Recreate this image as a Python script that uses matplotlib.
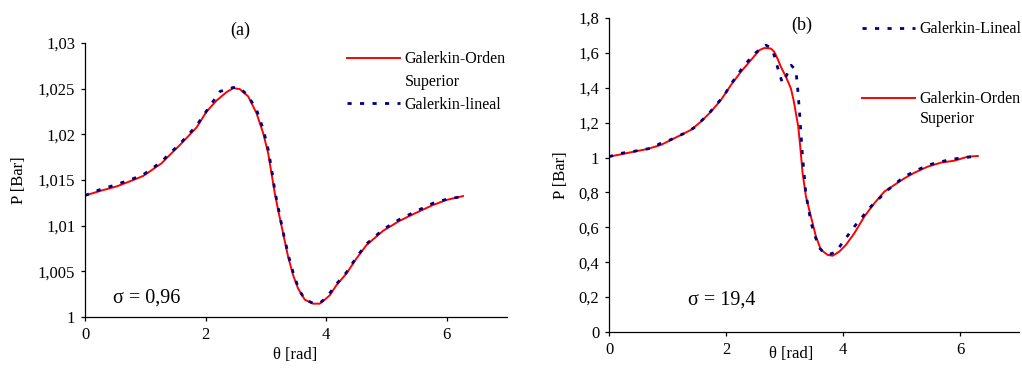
import numpy as np
import matplotlib
matplotlib.use('Agg')
import matplotlib.pyplot as plt
from matplotlib.lines import Line2D

plt.rcParams['font.family'] = ['Liberation Serif', 'DejaVu Serif']

# panel (a): sigma = 0,96
theta_a_orden = [0, 0.249, 0.525, 0.801, 0.967, 1.27, 1.354, 1.575, 1.851, 2.017, 2.182, 2.348,
                 2.459, 2.569, 2.707, 2.845, 2.956, 3.039, 3.094, 3.149, 3.204, 3.287, 3.370,
                 3.453, 3.536, 3.646, 3.785, 3.895, 3.978, 4.061, 4.171, 4.337, 4.503, 4.669,
                 4.945, 5.221, 5.497, 5.773, 5.994, 6.271]
p_a_orden = [1.0133, 1.01380, 1.01430, 1.01500, 1.01545, 1.01683, 1.01740, 1.01884, 1.02075,
             1.02250, 1.02370, 1.02462, 1.02506, 1.02495, 1.02415, 1.02232, 1.02012, 1.01793,
             1.01573, 1.01354, 1.01171, 1.00915, 1.00659, 1.00457, 1.00311, 1.00190, 1.00146,
             1.00146, 1.00190, 1.00238, 1.00348, 1.00476, 1.00640, 1.00787, 1.00944, 1.01054,
             1.01142, 1.01226, 1.01281, 1.01324]
theta_a_lineal = [0, 0.25, 0.52, 0.80, 0.97, 1.27, 1.35, 1.58, 1.85, 2.02, 2.24, 2.46, 2.57,
                  2.71, 2.85, 2.96, 3.04, 3.10, 3.15, 3.21, 3.29, 3.38, 3.46, 3.55, 3.65, 3.78,
                  3.90, 3.98, 4.06, 4.17, 4.34, 4.50, 4.67, 4.95, 5.22, 5.50, 5.77, 6.0, 6.27]
p_a_lineal = [1.0133, 1.01395, 1.0145, 1.01515, 1.0156, 1.0170, 1.01755, 1.0190, 1.02095,
              1.0226, 1.0247, 1.02513, 1.02505, 1.0242, 1.0226, 1.0205, 1.0183, 1.0160, 1.0138,
              1.0118, 1.0092, 1.0066, 1.0047, 1.0030, 1.0019, 1.00152, 1.00155, 1.0020, 1.0026,
              1.0036, 1.0049, 1.0065, 1.0080, 1.0096, 1.0107, 1.0116, 1.01245, 1.0129, 1.0132]

# panel (b): sigma = 19,4
theta_b_orden = [0, 0.199, 0.427, 0.655, 0.883, 1.054, 1.225, 1.396, 1.567, 1.738, 1.909,
                 2.080, 2.251, 2.422, 2.564, 2.650, 2.764, 2.821, 2.877, 2.934, 3.020, 3.105,
                 3.151, 3.191, 3.231, 3.265, 3.305, 3.362, 3.447, 3.533, 3.618, 3.732, 3.818,
                 3.932, 4.046, 4.188, 4.359, 4.530, 4.701, 4.872, 5.043, 5.214, 5.442, 5.670,
                 5.897, 6.125, 6.296]
p_b_orden = [1.005, 1.018, 1.034, 1.049, 1.072, 1.100, 1.129, 1.158, 1.205, 1.262, 1.329,
             1.415, 1.491, 1.558, 1.615, 1.628, 1.625, 1.606, 1.567, 1.520, 1.463, 1.396,
             1.329, 1.253, 1.177, 1.062, 0.910, 0.776, 0.662, 0.547, 0.471, 0.442, 0.437,
             0.461, 0.500, 0.566, 0.662, 0.738, 0.805, 0.843, 0.881, 0.913, 0.948, 0.971,
             0.982, 1.005, 1.009]
theta_b_lineal = [0, 0.2, 0.43, 0.71, 0.88, 1.05, 1.28, 1.45, 1.68, 1.97, 2.08, 2.31, 2.5,
                  2.68, 2.76, 2.82, 2.90, 2.96, 3.03, 3.11, 3.19, 3.22, 3.25, 3.30, 3.36, 3.45,
                  3.53, 3.60, 3.67, 3.79, 3.88, 3.96, 4.19, 4.47, 4.76, 5.04, 5.44, 5.84, 6.30]
p_b_lineal = [1.005, 1.024, 1.036, 1.053, 1.081, 1.102, 1.138, 1.17, 1.243, 1.358, 1.42,
              1.529, 1.60, 1.644, 1.63, 1.587, 1.49, 1.428, 1.47, 1.529, 1.501, 1.40, 1.272,
              1.024, 0.795, 0.624, 0.538, 0.48, 0.452, 0.448, 0.46, 0.500, 0.605, 0.719,
              0.814, 0.891, 0.957, 0.990, 1.009]

a_yticks = [1.0, 1.005, 1.01, 1.015, 1.02, 1.025, 1.03]
a_ylabels = ['1', '1,005', '1,01', '1,015', '1,02', '1,025', '1,03']
b_yticks = [0, 0.2, 0.4, 0.6, 0.8, 1.0, 1.2, 1.4, 1.6, 1.8]
b_ylabels = ['0', '0,2', '0,4', '0,6', '0,8', '1', '1,2', '1,4', '1,6', '1,8']
xticks = [0, 2, 4, 6]

RED = '#ff0000'
BLUE = '#000080'
dots = (0, (1.5, 3))

fig = plt.figure(figsize=(10.22, 3.70), dpi=100)
ax1 = fig.add_axes([0.0832, 0.1432, 0.4128, 0.7406])
ax2 = fig.add_axes([0.5959, 0.1027, 0.4012, 0.8487])

for ax in (ax1, ax2):
    ax.spines['top'].set_visible(False)
    ax.spines['right'].set_visible(False)
    ax.spines['left'].set_linewidth(0.9)
    ax.spines['bottom'].set_linewidth(0.9)
    ax.tick_params(direction='out', length=3, width=0.9, labelsize=12, pad=4)
    ax.set_xlim(0, 7)
    ax.set_xticks(xticks)
    ax.set_xticklabels([str(t) for t in xticks])

# (a)
ax1.plot(theta_a_orden, p_a_orden, color=RED, lw=1.4)
ax1.plot(theta_a_lineal, p_a_lineal, color=BLUE, lw=2.0, linestyle=dots)
ax1.set_ylim(1.0, 1.03)
ax1.set_yticks(a_yticks)
ax1.set_yticklabels(a_ylabels)
ax1.set_xlabel('θ [rad]', fontsize=12)
ax1.set_ylabel('P [Bar]', fontsize=12)
ax1.xaxis.set_label_coords(0.497, -0.11)
ax1.yaxis.set_label_coords(-0.137, 0.5)
ax1.text(0.367, 1.047, '(a)', transform=ax1.transAxes, ha='center', va='center', fontsize=13)
ax1.text(0.066, 0.069, 'σ = 0,96', transform=ax1.transAxes, ha='left', va='center', fontsize=14.5)
h_orden = Line2D([], [], color=RED, lw=1.4)
h_blank = Line2D([], [], color='none')
h_lineal = Line2D([], [], color=BLUE, lw=2.0, linestyle=dots)
ax1.legend([h_orden, h_blank, h_lineal], ['Galerkin-Orden', 'Superior', 'Galerkin-lineal'],
           loc='upper left', bbox_to_anchor=(0.621, 0.970), frameon=False, fontsize=11.5,
           handlelength=3.3, handletextpad=0.3, labelspacing=0.42, borderpad=0, borderaxespad=0)

# (b)
ax2.plot(theta_b_orden, p_b_orden, color=RED, lw=1.4)
ax2.plot(theta_b_lineal, p_b_lineal, color=BLUE, lw=2.0, linestyle=dots)
ax2.set_ylim(0, 1.8)
ax2.set_yticks(b_yticks)
ax2.set_yticklabels(b_ylabels)
ax2.set_xlabel('θ [rad]', fontsize=12)
ax2.set_ylabel('P [Bar]', fontsize=12)
ax2.xaxis.set_label_coords(0.444, -0.045)
ax2.yaxis.set_label_coords(-0.098, 0.5)
ax2.text(0.471, 0.978, '(b)', transform=ax2.transAxes, ha='center', va='center', fontsize=13)
ax2.text(0.193, 0.102, 'σ = 19,4', transform=ax2.transAxes, ha='left', va='center', fontsize=14.5)
leg_top = ax2.legend([h_lineal], ['Galerkin-Lineal'], loc='upper left',
                     bbox_to_anchor=(0.617, 0.99), frameon=False, fontsize=11.5,
                     handlelength=3.3, handletextpad=0.3, borderpad=0, borderaxespad=0)
ax2.add_artist(leg_top)
ax2.legend([h_orden, h_blank], ['Galerkin-Orden', 'Superior'], loc='upper left',
           bbox_to_anchor=(0.617, 0.767), frameon=False, fontsize=11.5,
           handlelength=3.3, handletextpad=0.3, labelspacing=0.25, borderpad=0, borderaxespad=0)

fig.savefig('out.png', dpi=100)
